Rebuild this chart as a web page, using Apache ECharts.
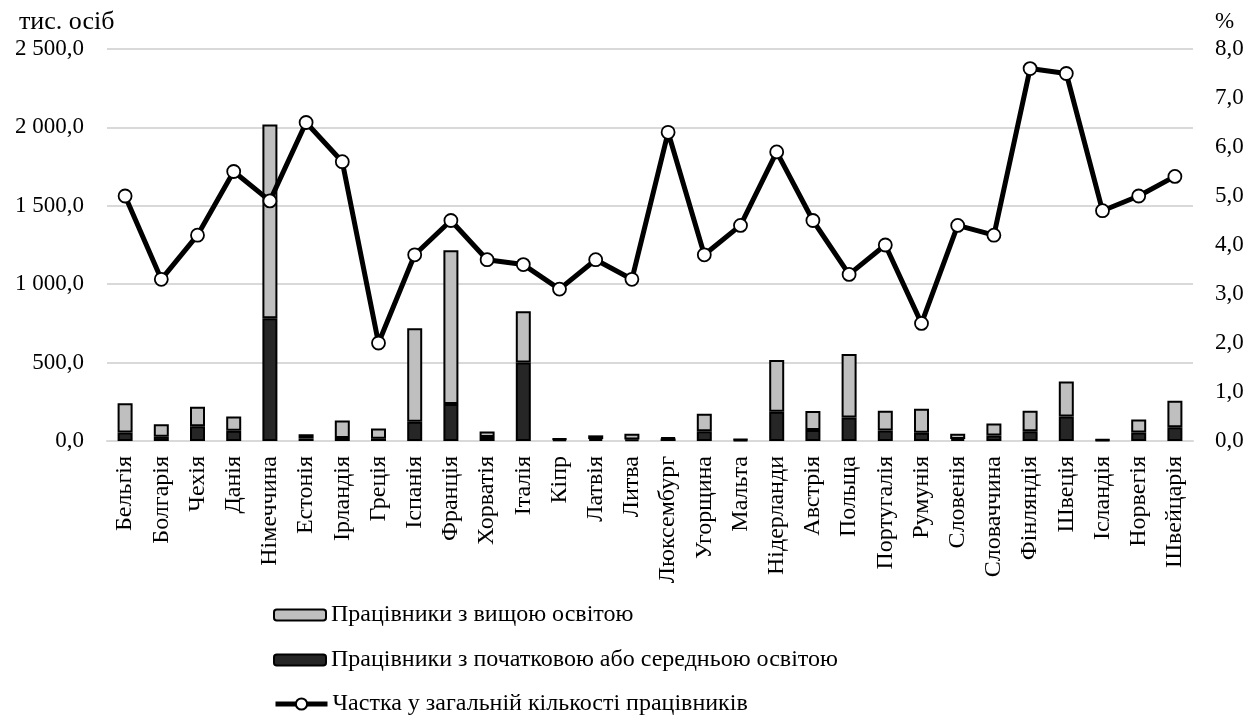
<!DOCTYPE html>
<html>
<head>
<meta charset="utf-8">
<script src="https://cdn.jsdelivr.net/npm/echarts@6/dist/echarts.min.js"></script>
<style>
  html, body { margin: 0; padding: 0; background: #fff; }
  #chart { width: 1260px; height: 715px; }
</style>
</head>
<body>
<div id="chart"></div>
<script>
// Країни
const categories = ['Бельгія','Болгарія','Чехія','Данія','Німеччина','Естонія','Ірландія','Греція','Іспанія','Франція','Хорватія','Італія','Кіпр','Латвія','Литва','Люксембург','Угорщина','Мальта','Нідерланди','Австрія','Польща','Португалія','Румунія','Словенія','Словаччина','Фінляндія','Швеція','Ісландія','Норвегія','Швейцарія'];

// Працівники з початковою або середньою освітою, тис. осіб
const lowerEdu = [55, 27, 94, 66, 783, 17, 19, 15, 123, 236, 26, 500, 10, 12, 10, 16, 62, 7, 186, 70, 150, 67, 52, 12, 35, 62, 156, 6, 54, 88];

// Працівники з вищою освітою, тис. осіб
const higherEdu = [185, 80, 125, 91, 1235, 26, 111, 64, 596, 981, 35, 328, 5, 24, 37, 6, 111, 4, 331, 122, 405, 126, 153, 34, 77, 131, 224, 4, 83, 168];

// Частка у загальній кількості працівників, %
const share = [5.0, 3.3, 4.2, 5.5, 4.9, 6.5, 5.7, 2.0, 3.8, 4.5, 3.7, 3.6, 3.1, 3.7, 3.3, 6.3, 3.8, 4.4, 5.9, 4.5, 3.4, 4.0, 2.4, 4.4, 4.2, 7.6, 7.5, 4.7, 5.0, 5.4];

// Назви рядів
const nameHigher = 'Працівники з вищою освітою';
const nameLower = 'Працівники з початковою або середньою освітою';
const nameShare = 'Частка у загальній кількості працівників';

// Одиниці виміру осей
const leftUnit = 'тис. осіб';
const rightUnit = '%';

const FONT = '"Liberation Serif", "Times New Roman", serif';
const FS = 24;
const FS_NUM = 23;

function fmtThousands(v) {
  const s = v.toFixed(1).replace('.', ',');
  const parts = s.split(',');
  parts[0] = parts[0].replace(/\B(?=(\d{3})+(?!\d))/g, ' ');
  return parts.join(',');
}

// Один рядок легенди
function legendRow(name, top, extra) {
  return Object.assign({
    orient: 'horizontal',
    left: 273,
    top: top,
    padding: 0,
    itemWidth: 52,
    itemHeight: 11,
    itemTextGap: 7,
    selectedMode: false,
    data: [name],
    textStyle: { fontFamily: FONT, fontSize: FS, color: '#000' }
  }, extra || {});
}

const chart = echarts.init(document.getElementById('chart'), null, { renderer: 'canvas' });

chart.setOption({
  animation: false,
  backgroundColor: '#fff',
  textStyle: { fontFamily: FONT, color: '#000' },
  grid: { left: 107, right: 67, top: 49, bottom: 274, containLabel: false },
  graphic: [
    { type: 'text', left: 19, top: 9, style: { text: leftUnit, font: '26px ' + FONT, fill: '#000' } },
    { type: 'text', left: 1215, top: 10, style: { text: rightUnit, font: FS_NUM + 'px ' + FONT, fill: '#000' } }
  ],
  legend: [
    legendRow(nameHigher, 603),
    legendRow(nameLower, 648),
    legendRow(nameShare, 692, { itemHeight: 14, lineStyle: { width: 5, color: '#000' } })
  ],
  xAxis: {
    type: 'category',
    data: categories,
    axisLine: { show: true, lineStyle: { color: '#d9d9d9', width: 2 } },
    axisTick: { show: false },
    axisLabel: { rotate: 90, margin: 15, fontFamily: FONT, fontSize: FS, color: '#000', interval: 0 }
  },
  yAxis: [
    {
      type: 'value', min: 0, max: 2500, interval: 500,
      axisLine: { show: false }, axisTick: { show: false },
      splitLine: { show: true, lineStyle: { color: '#d9d9d9', width: 2 } },
      axisLabel: { margin: 23, fontFamily: FONT, fontSize: FS_NUM, color: '#000', formatter: fmtThousands }
    },
    {
      type: 'value', min: 0, max: 8, interval: 1,
      axisLine: { show: false }, axisTick: { show: false },
      splitLine: { show: false },
      axisLabel: { margin: 22, fontFamily: FONT, fontSize: FS_NUM, color: '#000', formatter: v => v.toFixed(1).replace('.', ',') }
    }
  ],
  series: [
    {
      name: nameLower,
      type: 'bar', stack: 'edu', barWidth: 15,
      data: lowerEdu,
      itemStyle: { color: '#262626', borderColor: '#000', borderWidth: 2 }
    },
    {
      name: nameHigher,
      type: 'bar', stack: 'edu', barWidth: 15,
      data: higherEdu,
      itemStyle: { color: '#bfbfbf', borderColor: '#000', borderWidth: 2 }
    },
    {
      name: nameShare,
      type: 'line', yAxisIndex: 1, z: 5,
      data: share,
      symbol: 'circle', symbolSize: 13,
      lineStyle: { color: '#000', width: 5 },
      itemStyle: { color: '#fff', borderColor: '#000', borderWidth: 1.8 }
    }
  ]
});
</script>
</body>
</html>
